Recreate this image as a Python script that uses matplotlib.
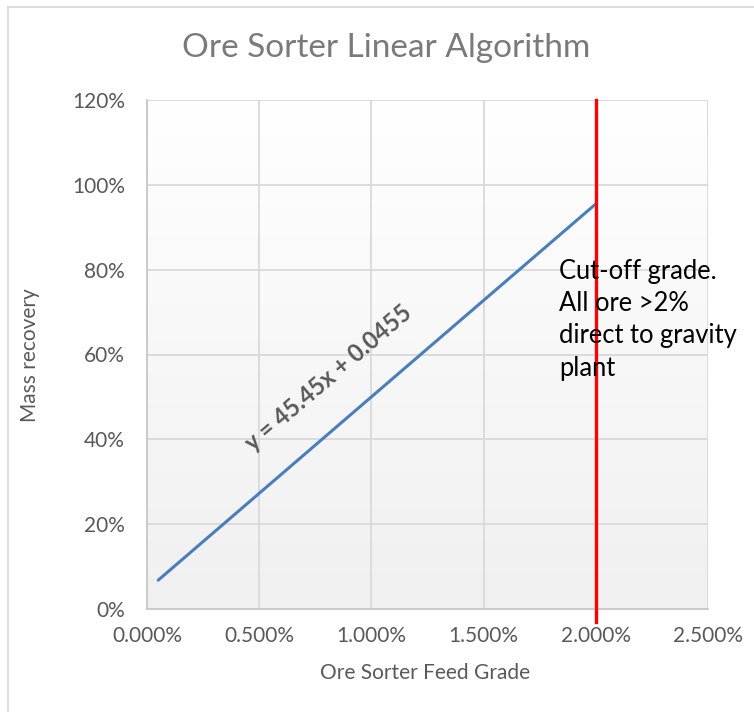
import matplotlib
matplotlib.use("Agg")
import matplotlib.pyplot as plt
import numpy as np
from matplotlib.lines import Line2D
from matplotlib.ticker import FuncFormatter
from matplotlib.colors import LinearSegmentedColormap

plt.rcParams['font.family'] = ['Lato', 'DejaVu Sans']

# Data (percent units)
feed_grade = [0.05, 2.0]          # Ore Sorter Feed Grade, %
mass_recovery = [6.8, 95.5]       # Mass recovery, %
cutoff_grade = 2.0
x_ticks = [0.0, 0.5, 1.0, 1.5, 2.0, 2.5]
y_ticks = [0, 20, 40, 60, 80, 100, 120]
title = "Ore Sorter Linear Algorithm"
equation = "y = 45.45x + 0.0455"
note = "Cut-off grade.\nAll ore >2%\ndirect to gravity\nplant"

W, H = 754, 712
fig = plt.figure(figsize=(W / 100, H / 100), dpi=100)
ax = fig.add_axes([147 / W, (H - 609) / H, (708 - 147) / W, (609 - 100) / H])

# gradient background (white at top -> light grey at bottom)
grad = np.linspace(0, 1, 256).reshape(-1, 1)
cmap = LinearSegmentedColormap.from_list("g", ["#ffffff", "#f0f0f0"])
ax.imshow(grad, extent=[0, 1, 0, 1], origin='upper', transform=ax.transAxes,
          aspect='auto', cmap=cmap, zorder=0)

ax.set_xlim(0, 2.5)
ax.set_ylim(0, 120)
ax.set_xticks(x_ticks)
ax.set_yticks(y_ticks)
ax.xaxis.set_major_formatter(FuncFormatter(lambda v, p: f"{v:.3f}%"))
ax.yaxis.set_major_formatter(FuncFormatter(lambda v, p: f"{v:.0f}%"))
ax.grid(True, color="#d9d9d9", linewidth=1.3, zorder=1)
ax.set_axisbelow(True)
for s in ['top', 'right']:
    ax.spines[s].set_visible(False)
for s in ['left', 'bottom']:
    ax.spines[s].set_color("#c8c8c8")
    ax.spines[s].set_linewidth(1.3)
ax.tick_params(length=0, labelsize=15, labelcolor="#595959")
ax.tick_params(axis='y', pad=16)
ax.tick_params(axis='x', pad=12)

ax.plot(feed_grade, mass_recovery, color="#4a7ebb", linewidth=2.2, zorder=3,
        solid_capstyle='round')
ax.plot([cutoff_grade, cutoff_grade], [-3, 120], color="#ff0000", linewidth=2.4,
        zorder=4, clip_on=False)

ax.text(0.807, 54.5, equation, rotation=40.5, rotation_mode='anchor',
        ha='center', va='center', fontsize=17, fontweight='bold',
        color="#595959", zorder=5)
ax.text(1.835, 82.5, note, ha='left', va='top', fontsize=18.4, color="black",
        linespacing=1.36, zorder=5)

fig.text(386 / W, 1 - 48 / H, title, ha='center', va='center', fontsize=24,
         color="#7a7a7a")
ax.set_xlabel("Ore Sorter Feed Grade", fontsize=15, color="#595959")
ax.set_ylabel("Mass recovery", fontsize=15, color="#595959")
ax.xaxis.set_label_coords((425 - 147) / 561, (609 - 673) / 509)
ax.yaxis.set_label_coords((30 - 147) / 561, (609 - 355) / 509)
ax.xaxis.label.set_va('center')
ax.yaxis.label.set_va('center')

# outer chart border
fig.add_artist(Line2D([8 / W, 8 / W], [0, 1 - 7 / H], transform=fig.transFigure,
                      color="#d9d9d9", linewidth=1.3))
fig.add_artist(Line2D([8 / W, 1], [1 - 7 / H, 1 - 7 / H], transform=fig.transFigure,
                      color="#d9d9d9", linewidth=1.3))

fig.savefig("out.png", dpi=100, facecolor="white")
